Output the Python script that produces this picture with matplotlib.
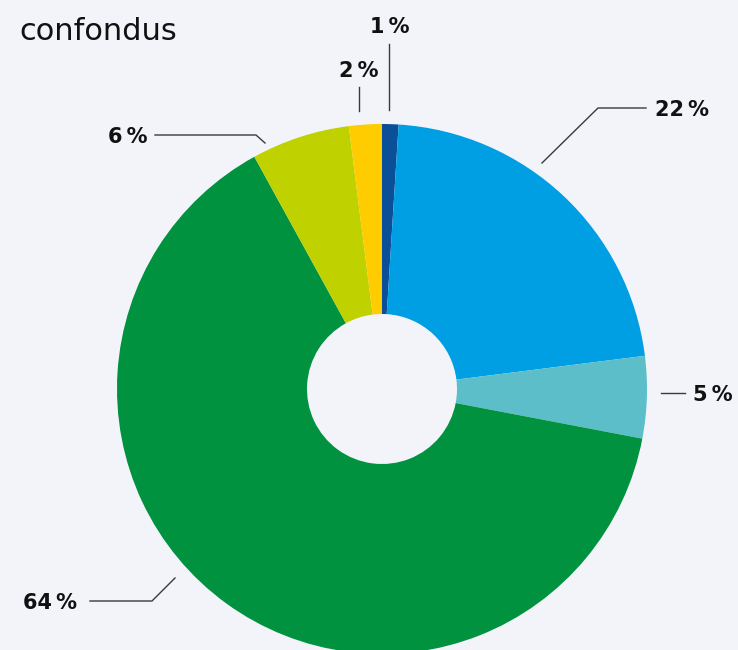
import matplotlib
matplotlib.use('Agg')
import matplotlib.pyplot as plt

# data
categories = ['a', 'b', 'c', 'd', 'e', 'f']
values = [1, 22, 5, 64, 6, 2]
labels = ['1\u2009%', '22\u2009%', '5\u2009%', '64\u2009%', '6\u2009%', '2\u2009%']
colors = ['#0b4f98', '#009fe3', '#5bbec9', '#00923f', '#c0d100', '#ffcc00']

W, H = 738, 650
bg = '#f3f4fa'

fig = plt.figure(figsize=(W / 100, H / 100), dpi=100, facecolor=bg)

# donut axes: centre (382, 389) px, radius 265 px
cx, cy, r = 382, 389, 265
ax = fig.add_axes([(cx - r) / W, (H - cy - r) / H, 2 * r / W, 2 * r / H])
ax.set_facecolor(bg)
ax.pie(values, colors=colors, startangle=90, counterclock=False,
       radius=1, wedgeprops=dict(width=1 - 75 / 265, linewidth=0))
ax.set_xlim(-1, 1)
ax.set_ylim(-1, 1)
ax.set_aspect('equal')
ax.axis('off')


def px(x, y):
    return x / W, 1 - y / H


# leader lines (pixel layout) and label anchors
leaders = {
    '1\u2009%': ([(389, 110), (389, 44)], (390, 27), 'center'),
    '22\u2009%': ([(542, 163), (598, 108), (646, 108)], (655, 110), 'left'),
    '5\u2009%': ([(661, 393), (685, 393)], (693, 395), 'left'),
    '64\u2009%': ([(175, 578), (152, 601), (90, 601)], (77, 603), 'right'),
    '6\u2009%': ([(265, 143), (256, 135), (155, 135)], (147, 137), 'right'),
    '2\u2009%': ([(359, 111), (359, 87)], (359, 71), 'center'),
}

for lab in labels:
    pts, tpos, ha = leaders[lab]
    xs = [px(*p)[0] for p in pts]
    ys = [px(*p)[1] for p in pts]
    fig.add_artist(plt.Line2D(xs, ys, transform=fig.transFigure,
                              color='#3a3a3a', lw=1.0))
    fig.text(*px(*tpos), lab, ha=ha, va='center', fontsize=15,
             fontweight='bold', color='#111111', family='DejaVu Sans')

fig.text(*px(19, 32), 'confondus', ha='left', va='center', fontsize=22,
         color='#111111', family='DejaVu Sans')

fig.savefig('out.png', dpi=100, facecolor=bg)
